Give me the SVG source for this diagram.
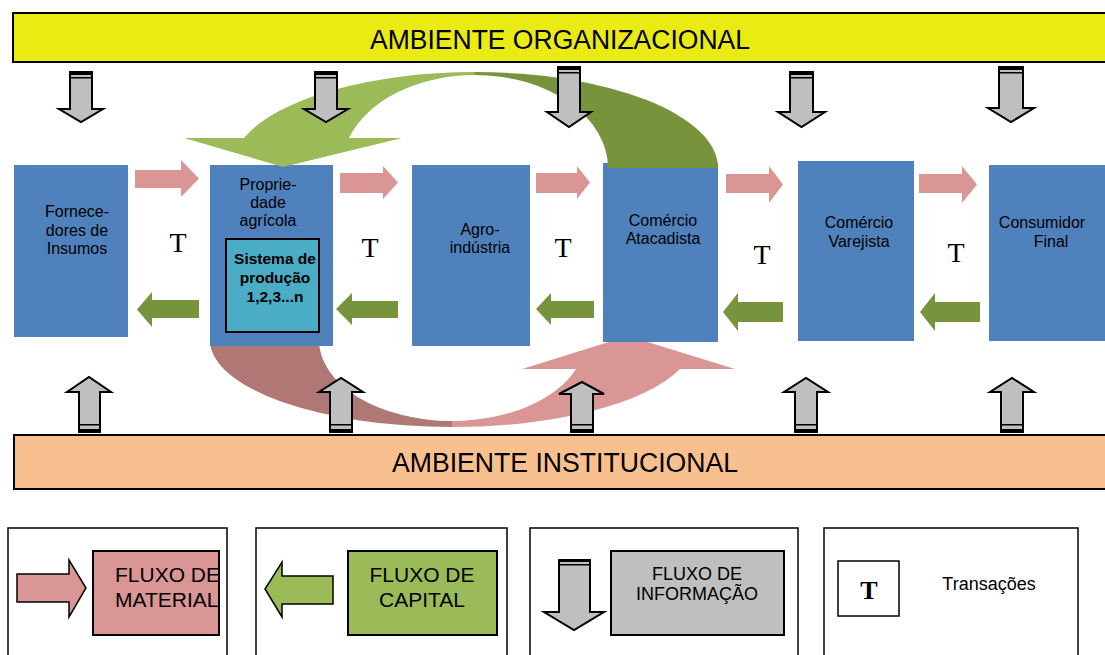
<svg xmlns="http://www.w3.org/2000/svg" width="1105" height="655" viewBox="0 0 1105 655">
<defs>
<style>
.node{fill:#4F81BD}
.nt{font-family:"Liberation Sans",Arial,sans-serif;font-size:16px;fill:#000;text-anchor:middle}
.nb{font-family:"Liberation Sans",Arial,sans-serif;font-size:15.5px;font-weight:bold;fill:#000;text-anchor:middle}
.tt{font-family:"Liberation Serif","Times New Roman",serif;font-size:28px;fill:#000;text-anchor:middle}
.mat{fill:#D99694}
.cap{fill:#77933C}
.info{fill:#BFBFBF;stroke:#000;stroke-width:2;stroke-linejoin:miter}
.band{fill:#000}
.ban{font-family:"Liberation Sans",Arial,sans-serif;font-size:27px;fill:#000;text-anchor:middle}
.lg{font-family:"Liberation Sans",Arial,sans-serif;font-size:21px;fill:#000;text-anchor:middle}
.lbox{fill:#fff;stroke:#000;stroke-width:1.5}
</style>
<clipPath id="clipMat"><rect x="93" y="551" width="126" height="84"/></clipPath>
</defs>
<rect width="1105" height="655" fill="#fff"/>

<g id="ambiente-organizacional">
<rect x="13" y="13" width="1100" height="49" fill="#EBEB14" stroke="#000" stroke-width="2"/>
<text class="ban" x="560" y="49" textLength="380" lengthAdjust="spacingAndGlyphs">AMBIENTE ORGANIZACIONAL</text>
</g>
<g id="ambiente-institucional">
<rect x="14" y="435" width="1100" height="54" fill="#F9C08F" stroke="#000" stroke-width="2"/>
<text class="ban" x="565" y="472" textLength="346" lengthAdjust="spacingAndGlyphs">AMBIENTE INSTITUCIONAL</text>
</g>

<g id="connectors">
<!-- big curved material arrow (bottom) -->
<path d="M 210,340 A 242 87 0 0 0 452,427 L 452,421 A 133 81 0 0 1 319,340 Z" fill="#AF7874"/>
<path d="M 452,427 A 242 87 0 0 0 680,369 L 735,369 L 628,336 L 522,369 L 576,369 A 133 81 0 0 1 452,421 Z" fill="#D99694"/>
</g>

<g id="fornecedores">
<rect class="node" x="14" y="165" width="114" height="172"/>
<text class="nt" x="77" y="217">Fornece-</text>
<text class="nt" x="77" y="236">dores de</text>
<text class="nt" x="77" y="254">Insumos</text>
</g>
<g id="propriedade">
<rect class="node" x="210" y="165" width="123" height="181"/>
<text class="nt" x="268" y="190">Proprie-</text>
<text class="nt" x="268" y="208">dade</text>
<text class="nt" x="268" y="226">agrícola</text>
<g id="sistema">
<rect x="226" y="239" width="93" height="93" fill="#4BACC6" stroke="#000" stroke-width="2"/>
<text class="nb" x="275" y="264">Sistema de</text>
<text class="nb" x="275" y="283">produção</text>
<text class="nb" x="275" y="302">1,2,3...n</text>
</g>
</g>
<g id="agroindustria">
<rect class="node" x="412" y="165" width="118" height="181"/>
<text class="nt" x="480" y="235">Agro-</text>
<text class="nt" x="480" y="253">indústria</text>
</g>
<g id="atacadista">
<rect class="node" x="603" y="163" width="115" height="179"/>
<text class="nt" x="663" y="226">Comércio</text>
<text class="nt" x="663" y="244">Atacadista</text>
</g>
<g id="varejista">
<rect class="node" x="798" y="161" width="116" height="180"/>
<text class="nt" x="859" y="228">Comércio</text>
<text class="nt" x="859" y="247">Varejista</text>
</g>
<g id="consumidor">
<rect class="node" x="989" y="165" width="120" height="176"/>
<text class="nt" x="1042" y="228">Consumidor</text>
<text class="nt" x="1051" y="247">Final</text>
</g>

<g id="connectors-2">
<!-- big curved capital arrow (top) -->
<path d="M 475,72 A 243 96 0 0 1 718,168 L 608,168 A 133 93 0 0 0 475,75 Z" fill="#77933C"/>
<path d="M 244,138 A 243 96 0 0 1 475,72 L 475,75 A 133 93 0 0 0 349,138 L 402,138 L 283,167 L 184,138 Z" fill="#9BBB59"/>

<!-- material arrows -->
<path class="mat" d="M135,170 H181 V160 L199,178.5 L181,197 V188 H135 Z"/>
<path class="mat" d="M340,173 H383 V166 L398,182.5 L383,199 V193 H340 Z"/>
<path class="mat" d="M536,173 H577 V166 L590,182.5 L577,199 V193 H536 Z"/>
<path class="mat" d="M726,174 H769 V166 L783,184.5 L769,203 V193 H726 Z"/>
<path class="mat" d="M919,174 H962 V166 L977,184.5 L962,203 V193 H919 Z"/>

<!-- capital arrows -->
<path class="cap" d="M199,300 H152 V292 L137,309.5 L152,327 V318 H199 Z"/>
<path class="cap" d="M398,301 H352 V293 L336,309 L352,325 V318 H398 Z"/>
<path class="cap" d="M594,301 H551 V293 L536,309 L551,325 V318 H594 Z"/>
<path class="cap" d="M783,302 H738 V293 L723,312 L738,331 V322 H783 Z"/>
<path class="cap" d="M980,302 H935 V293 L920,312 L935,331 V322 H980 Z"/>

<!-- information arrows down (from organizational) -->
<path class="info" d="M70,72 H92 V109 H103 L81,122 L59,109 H70 Z"/>
<rect class="band" x="70" y="71" width="22" height="4"/><rect class="band" x="70" y="77" width="22" height="1.5"/>
<path class="info" d="M315,72 H337 V109 H348 L326,122 L304,109 H315 Z"/>
<rect class="band" x="315" y="71" width="22" height="4"/><rect class="band" x="315" y="77" width="22" height="1.5"/>
<path class="info" d="M558,67 H580 V112 H591 L569,127 L547,112 H558 Z"/>
<rect class="band" x="558" y="66" width="22" height="4"/><rect class="band" x="558" y="72" width="22" height="1.5"/>
<path class="info" d="M790,72 H813 V112 H825 L801.5,127 L778,112 H790 Z"/>
<rect class="band" x="790" y="71" width="23" height="4"/><rect class="band" x="790" y="77" width="23" height="1.5"/>
<path class="info" d="M999,67 H1023 V108 H1034 L1011,122 L988,108 H999 Z"/>
<rect class="band" x="999" y="66" width="24" height="4"/><rect class="band" x="999" y="72" width="24" height="1.5"/>

<!-- information arrows up (from institutional) -->
<path class="info" d="M79,432 V392 H67 L89,377 L111,392 H100 V432 Z"/>
<rect class="band" x="79" y="429" width="21" height="4"/><rect class="band" x="79" y="424" width="21" height="1.5"/>
<path class="info" d="M330,432 V392 H319 L341,378 L363,392 H352 V432 Z"/>
<rect class="band" x="330" y="429" width="22" height="4"/><rect class="band" x="330" y="424" width="22" height="1.5"/>
<path class="info" d="M571,432 V394 H559 L582,382 L604,394 H593 V432 Z"/>
<rect class="band" x="571" y="429" width="22" height="4"/><rect class="band" x="571" y="424" width="22" height="1.5"/>
<path class="info" d="M795,432 V392 H784 L806,378 L828,392 H817 V432 Z"/>
<rect class="band" x="795" y="429" width="22" height="4"/><rect class="band" x="795" y="424" width="22" height="1.5"/>
<path class="info" d="M1001,432 V392 H990 L1012,378 L1034,392 H1023 V432 Z"/>
<rect class="band" x="1001" y="429" width="22" height="4"/><rect class="band" x="1001" y="424" width="22" height="1.5"/>
</g>

<g id="transacoes">
<text class="tt" x="178" y="252">T</text>
<text class="tt" x="370" y="257">T</text>
<text class="tt" x="563" y="257">T</text>
<text class="tt" x="762" y="264">T</text>
<text class="tt" x="956" y="262">T</text>
</g>

<g id="legenda-material">
<rect class="lbox" x="8" y="528" width="219" height="140"/>
<path d="M17,574 H69 V560 L86,588 L69,617 V602 H17 Z" fill="#D99694" stroke="#000" stroke-width="1.5"/>
<rect x="93" y="551" width="126" height="84" fill="#D99694" stroke="#000" stroke-width="2"/>
<g clip-path="url(#clipMat)">
<text class="lg" x="115" y="582" style="text-anchor:start">FLUXO DE</text>
<text class="lg" x="115" y="607" style="text-anchor:start">MATERIAL</text>
</g>
</g>
<g id="legenda-capital">
<rect class="lbox" x="256" y="528" width="251" height="140"/>
<path d="M333,576 H282 V562 L265,589 L282,617 V604 H333 Z" fill="#9BBB59" stroke="#000" stroke-width="1.5"/>
<rect x="348" y="551" width="149" height="84" fill="#9BBB59" stroke="#000" stroke-width="2"/>
<text class="lg" x="422" y="582">FLUXO DE</text>
<text class="lg" x="422" y="607">CAPITAL</text>
</g>
<g id="legenda-informacao">
<rect class="lbox" x="530" y="528" width="268" height="140"/>
<path class="info" d="M559,560 H590 V612 H604 L574,630 L544,612 H559 Z" stroke-width="1.5"/>
<rect class="band" x="559" y="559" width="31" height="3"/><rect class="band" x="559" y="564" width="31" height="1.5"/>
<rect x="611" y="551" width="173" height="84" fill="#BFBFBF" stroke="#000" stroke-width="2"/>
<text class="lg" x="697" y="580" style="font-size:18px">FLUXO DE</text>
<text class="lg" x="697" y="600" style="font-size:18px">INFORMAÇÃO</text>
</g>
<g id="legenda-transacoes">
<rect class="lbox" x="824" y="528" width="254" height="140"/>
<rect x="838" y="561" width="61" height="55" fill="#fff" stroke="#000" stroke-width="1.5"/>
<text x="869" y="599" font-family="'Liberation Serif','Times New Roman',serif" font-size="26" font-weight="bold" text-anchor="middle">T</text>
<text x="989" y="590" font-family="'Liberation Sans',Arial,sans-serif" font-size="18" text-anchor="middle">Transações</text>
</g>
</svg>
